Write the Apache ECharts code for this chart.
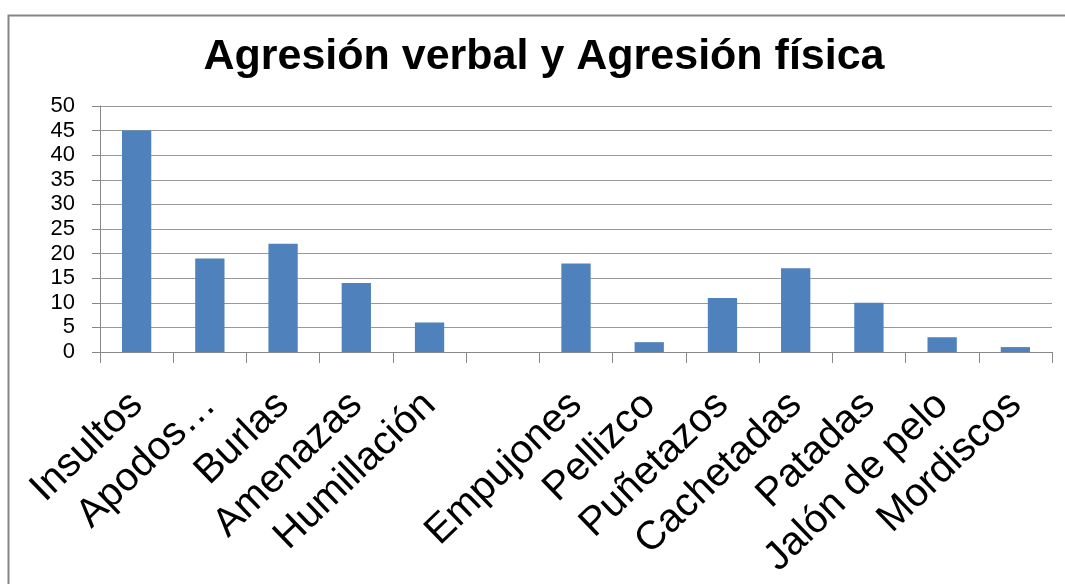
<!DOCTYPE html>
<html>
<head>
<meta charset="utf-8">
<script src="https://cdn.jsdelivr.net/npm/echarts@6/dist/echarts.min.js"></script>
<style>
  html, body { margin: 0; padding: 0; background: #fff; }
  #chart { width: 1065px; height: 584px; }
</style>
</head>
<body>
<div id="chart"></div>
<script>
const categories = ['Insultos', 'Apodos…', 'Burlas', 'Amenazas', 'Humillación', '',
  'Empujones', 'Pellizco', 'Puñetazos', 'Cachetadas', 'Patadas', 'Jalón de pelo', 'Mordiscos'];
const values = [45, 19, 22, 14, 6, null, 18, 2, 11, 17, 10, 3, 1];
const yTicks = { min: 0, max: 50, interval: 5 };

const font = '"Liberation Sans", Arial, sans-serif';
const chart = echarts.init(document.getElementById('chart'));
chart.setOption({
  animation: false,
  title: {
    text: 'Agresión verbal y Agresión física',
    left: 539,
    top: 31,
    textAlign: 'center',
    textStyle: { fontFamily: font, fontSize: 43, fontWeight: 'bold', color: '#000' },
  },
  graphic: [{
    type: 'rect',
    left: 6,
    top: 13,
    shape: { width: 1062, height: 600 },
    style: { fill: 'none', stroke: '#858585', lineWidth: 2 },
    silent: true,
  }],
  grid: { left: 100, right: 13, top: 106, bottom: 232 },
  xAxis: {
    type: 'category',
    data: categories,
    axisLine: { lineStyle: { color: '#888', width: 1 } },
    axisTick: { show: true, length: 11, lineStyle: { color: '#888' } },
    axisLabel: {
      interval: 0,
      rotate: 44,
      margin: 47,
      color: '#000',
      fontFamily: font,
      fontSize: 40,
    },
  },
  yAxis: {
    type: 'value',
    min: yTicks.min,
    max: yTicks.max,
    interval: yTicks.interval,
    axisLine: { show: true, lineStyle: { color: '#888' } },
    axisTick: { show: true, length: 8, lineStyle: { color: '#888' } },
    axisLabel: { margin: 25, color: '#000', fontFamily: font, fontSize: 22 },
    splitLine: { lineStyle: { color: '#999', width: 1 } },
  },
  series: [{
    type: 'bar',
    data: values,
    barWidth: '40%',
    itemStyle: { color: '#4F81BD' },
  }],
});
</script>
</body>
</html>
